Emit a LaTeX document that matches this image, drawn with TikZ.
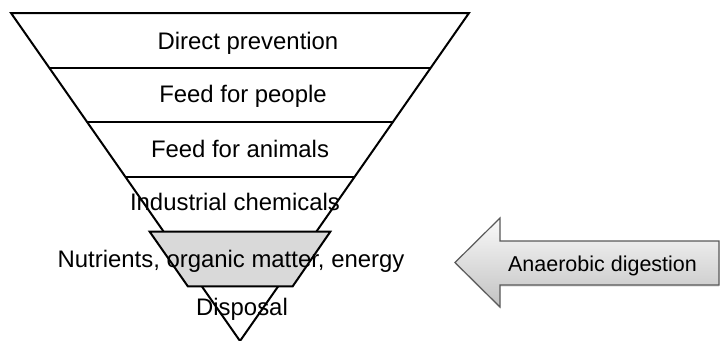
\documentclass[tikz,border=0pt]{standalone}
\usepackage{fontspec}
\setmainfont{Liberation Sans}
\usetikzlibrary{calc, shadows}
\begin{document}
\begin{tikzpicture}[x=1pt, y=-1pt, line width=2pt,
	level/.style={font=\fontsize{23.9}{28}\selectfont, inner sep=0pt, anchor=base},
	recovery/.style={fill=black!15, draw=black, line width=2pt},
	pointer/.style={draw=black!65, line width=1.2pt, top color=black!2, bottom color=black!24,
		drop shadow={shadow xshift=0pt, shadow yshift=-1.5pt, opacity=0.25}},
	pointer text/.style={font=\fontsize{21.5}{26}\selectfont, inner sep=0pt, anchor=base}]
			\useasboundingbox (0,0) rectangle (720,340);
%			\draw[help lines, step=20] (0,0) grid (720,340);
			\coordinate (tl) at (11, 13);
			\coordinate (tr) at (469, 13);
			\coordinate (apex) at (240, 341);
			\draw (tl) -- (tr) -- (apex) -- cycle;
			\draw ($(tl)!1/6!(apex)$) -- ($(tr)!1/6!(apex)$);
			\draw ($(tl)!2/6!(apex)$) -- ($(tr)!2/6!(apex)$);
			\draw ($(tl)!3/6!(apex)$) -- ($(tr)!3/6!(apex)$);
			\draw ($(tl)!4/6!(apex)$) -- ($(tr)!4/6!(apex)$);
			\draw ($(tl)!5/6!(apex)$) -- ($(tr)!5/6!(apex)$);
			% highlighted level
			\draw[recovery] ($(tl)!4/6!(apex)+(-14,0)$) -- ($(tr)!4/6!(apex)+(14,0)$)
				-- ($(tr)!5/6!(apex)+(14.5,0)$) -- ($(tl)!5/6!(apex)+(-14,0)$) -- cycle;
			\node[level] (prevention) at (248, 49) {Direct prevention};
			\node[level] (people) at (243, 102) {Feed for people};
			\node[level] (animals) at (240, 157) {Feed for animals};
			\node[level] (chemicals) at (235, 210.5) {Industrial chemicals};
			\node[level] (nutrients) at (231, 267) {Nutrients, organic matter, energy};
			\node[level] (disposal) at (242, 315.5) {Disposal};
			% arrow
			\path[pointer] (719, 241) -- (500, 241) -- (500, 218) -- (455, 262.5)
				-- (500, 307) -- (500, 285) -- (719, 285) -- cycle;
			\node[pointer text] (digestion) at (602.5, 271.5) {Anaerobic digestion};
		\end{tikzpicture}
\end{document}
